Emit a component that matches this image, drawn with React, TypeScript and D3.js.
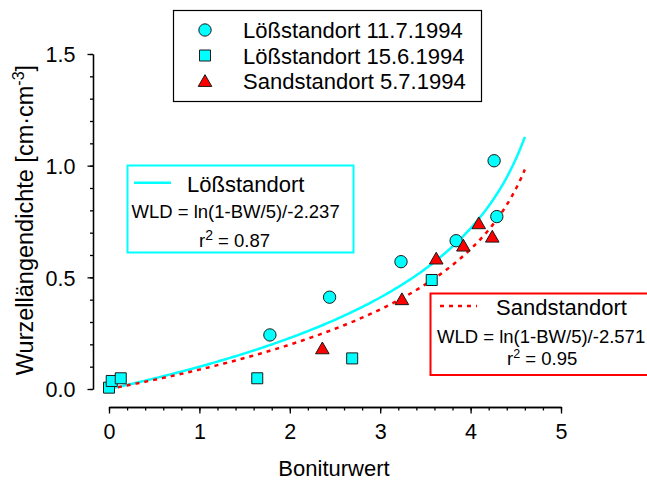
import React, { useRef, useEffect } from "react";
import * as d3 from "d3";

// Boniturwert (BW) vs Wurzellängendichte (WLD)
const loessJulyBW = [1.78, 2.44, 3.23, 3.84, 4.26, 4.29];
const loessJulyWLD = [0.242, 0.411, 0.57, 0.664, 1.022, 0.772];
const loessJuneBW = [0, 0.03, 0.13, 1.64, 2.69, 3.57];
const loessJuneWLD = [0.006, 0.036, 0.048, 0.048, 0.137, 0.488];
const sandBW = [2.36, 3.24, 3.62, 3.92, 4.09, 4.24];
const sandWLD = [0.182, 0.402, 0.584, 0.642, 0.742, 0.682];

const legendLabels = ["Lößstandort 11.7.1994", "Lößstandort 15.6.1994", "Sandstandort 5.7.1994"];

// fitted curves WLD = ln(1-BW/5)/-k, as printed in the chart
const fitLabels = ["Lößstandort", "Sandstandort"];
const fitK = [2.237, 2.571];
const fitR2 = ["0.87", "0.95"];
const fitMaxBW = 4.6;

const xMajorTicks = [0, 1, 2, 3, 4, 5];
const yMajorTicks = [0, 0.5, 1.0, 1.5];

const FONT = "'Liberation Sans', Arial, sans-serif";
const CYAN = "#00ffff";
const RED = "#ff0000";

function App() {
  const ref = useRef<SVGSVGElement>(null);

  useEffect(() => {
    const svg = d3.select(ref.current);
    svg.selectAll("*").remove();
    svg.style("font-family", FONT);

    const x = d3.scaleLinear().domain([0, 5]).range([109, 561]);
    const y = d3.scaleLinear().domain([0, 1.5]).range([389, 54]);

    // axes
    const xAxisY = 407;
    const yAxisX = 93;
    const xMinor = d3.range(0, 5.001, 0.2);
    const yMinor = d3.range(0, 1.501, 0.1);

    const gxMinor = svg.append("g").attr("transform", `translate(0,${xAxisY})`)
      .call(d3.axisBottom(x).tickValues(xMinor).tickSize(3.5).tickSizeOuter(0).tickFormat(() => ""));
    const gx = svg.append("g").attr("transform", `translate(0,${xAxisY})`)
      .call(d3.axisBottom(x).tickValues(xMajorTicks).tickSize(6.5).tickSizeOuter(0).tickPadding(10).tickFormat(d3.format("d")));
    const gyMinor = svg.append("g").attr("transform", `translate(${yAxisX},0)`)
      .call(d3.axisLeft(y).tickValues(yMinor).tickSize(3).tickSizeOuter(0).tickFormat(() => ""));
    const gy = svg.append("g").attr("transform", `translate(${yAxisX},0)`)
      .call(d3.axisLeft(y).tickValues(yMajorTicks).tickSize(5.5).tickSizeOuter(0).tickPadding(12).tickFormat(d3.format(".1f")));

    [gxMinor, gx, gyMinor, gy].forEach(g => {
      g.selectAll("path, line").attr("stroke", "#000").attr("stroke-width", 1.3);
      g.selectAll("text").attr("fill", "#000").style("font-family", FONT).style("font-size", "21.5px");
    });
    gy.selectAll("text").attr("dy", "0.36em");

    svg.append("text")
      .attr("x", x(2.5) - 1).attr("y", 476)
      .attr("text-anchor", "middle")
      .style("font-size", "22px")
      .text("Boniturwert");

    const yTitle = svg.append("text")
      .attr("transform", `translate(33,220) rotate(-90)`)
      .attr("text-anchor", "middle")
      .style("font-size", "23.5px");
    yTitle.append("tspan").text("Wurzellängendichte [cm·cm");
    yTitle.append("tspan").attr("dy", -9).style("font-size", "16px").text("-3");
    yTitle.append("tspan").attr("dy", 9).text("]");

    // fit curves
    const bwGrid = d3.range(0, fitMaxBW + 1e-9, 0.02);
    const line = d3.line<number>().x(d => x(d[0])).y(d => y(d[1]));
    const curve = (k: number) => bwGrid.map(bw => [bw, Math.log(1 - bw / 5) / -k]);

    svg.append("path")
      .attr("d", line(curve(fitK[0]) as any))
      .attr("fill", "none").attr("stroke", CYAN).attr("stroke-width", 2.5);
    svg.append("path")
      .attr("d", line(curve(fitK[1]) as any))
      .attr("fill", "none").attr("stroke", RED).attr("stroke-width", 2.5)
      .attr("stroke-dasharray", "4,5");

    // markers
    const circle = d3.symbol(d3.symbolCircle, 120);
    const square = d3.symbol(d3.symbolSquare, 121);
    const triangle = d3.symbol(d3.symbolTriangle, 80);

    const drawMarkers = (bw: number[], wld: number[], sym: any, fill: string, dyOff = 0) => {
      svg.append("g").selectAll("path")
        .data(bw.map((b, i) => [b, wld[i]]))
        .enter().append("path")
        .attr("transform", d => `translate(${x(d[0])},${y(d[1]) + dyOff})`)
        .attr("d", sym)
        .attr("fill", fill).attr("stroke", "#1a1a1a").attr("stroke-width", 1);
    };
    drawMarkers(loessJuneBW, loessJuneWLD, square, CYAN);
    drawMarkers(loessJulyBW, loessJulyWLD, circle, CYAN);
    drawMarkers(sandBW, sandWLD, triangle, RED, 1.5);

    // top legend
    const lg = svg.append("g");
    lg.append("rect").attr("x", 173.5).attr("y", 10.5).attr("width", 308).attr("height", 91)
      .attr("fill", "#fff").attr("stroke", "#000").attr("stroke-width", 1.2);
    const legendSyms = [circle, square, triangle];
    const legendFill = [CYAN, CYAN, RED];
    const rowY = [30, 55.5, 81];
    legendLabels.forEach((lab, i) => {
      lg.append("path").attr("d", legendSyms[i])
        .attr("transform", `translate(205,${rowY[i] + (i === 2 ? 1.5 : 0)})`)
        .attr("fill", legendFill[i]).attr("stroke", "#1a1a1a").attr("stroke-width", 1);
      lg.append("text").attr("x", 243).attr("y", rowY[i] + 8)
        .style("font-size", "22px").text(lab);
    });

    // fit boxes
    const boxes = [
      { x: 127.5, y: 165.5, w: 226, h: 87, color: CYAN, dash: null, lx: 134, ly: 182.7, tx: 187, ty: 191.5, ex: 131.5, ey: 218.3, rx: 199, ry: 247.3, sup: 14 },
      { x: 430.5, y: 293.5, w: 230, h: 81.5, color: RED, dash: "4,5", lx: 440, ly: 306, tx: 496, ty: 315, ex: 437, ey: 343.3, rx: 507, ry: 365, sup: 12.5 },
    ];
    boxes.forEach((b, i) => {
      const g = svg.append("g");
      g.append("rect").attr("x", b.x).attr("y", b.y).attr("width", b.w).attr("height", b.h)
        .attr("fill", "#fff").attr("stroke", b.color).attr("stroke-width", 2);
      g.append("line").attr("x1", b.lx).attr("x2", b.lx + 37).attr("y1", b.ly).attr("y2", b.ly)
        .attr("stroke", b.color).attr("stroke-width", 2.5)
        .attr("stroke-dasharray", b.dash);
      g.append("text").attr("x", b.tx).attr("y", b.ty).style("font-size", "22px").text(fitLabels[i]);
      g.append("text").attr("x", b.ex).attr("y", b.ey).style("font-size", "18.5px")
        .text(`WLD = ln(1-BW/5)/-${fitK[i].toFixed(3)}`);
      const r = g.append("text").attr("x", b.rx).attr("y", b.ry).style("font-size", "18.5px");
      r.append("tspan").text("r");
      r.append("tspan").attr("dy", -7).style("font-size", `${b.sup}px`).text("2");
      r.append("tspan").attr("dy", 7).text(` = ${fitR2[i]}`);
    });
  }, []);

  return (
    <svg ref={ref} width={647} height={480}
      style={{ position: "absolute", left: 0, top: 0, background: "#fff" }} />
  );
}

export default App;
